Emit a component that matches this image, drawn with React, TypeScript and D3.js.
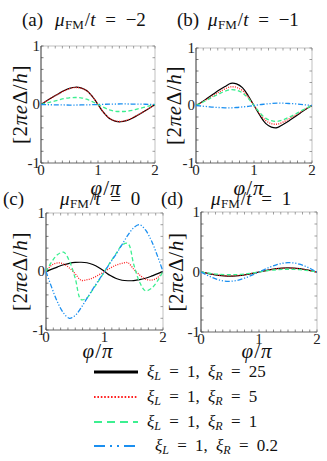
import React from "react";
import * as d3 from "d3";

const PHI = [0, 0.1, 0.2, 0.3, 0.4, 0.5, 0.6, 0.7, 0.8, 0.9, 1, 1.1, 1.2, 1.3, 1.4, 1.5, 1.6, 1.7, 1.8, 1.9, 2];

const A_BLACK = [0, 0.065, 0.125, 0.18, 0.235, 0.275, 0.295, 0.285, 0.24, 0.14, 0, -0.14, -0.24, -0.285, -0.295, -0.275, -0.235, -0.18, -0.125, -0.065, 0];
const A_RED = [0, 0.063, 0.122, 0.177, 0.23, 0.27, 0.29, 0.28, 0.235, 0.137, 0, -0.137, -0.235, -0.28, -0.29, -0.27, -0.23, -0.177, -0.122, -0.063, 0];
const A_GREEN = [0, 0.025, 0.05, 0.075, 0.1, 0.115, 0.12, 0.115, 0.09, 0.05, 0, -0.05, -0.09, -0.115, -0.12, -0.115, -0.1, -0.075, -0.05, -0.025, 0];
const A_BLUE = [0, -0.003, -0.005, -0.007, -0.008, -0.009, -0.009, -0.008, -0.006, -0.003, 0, 0.003, 0.006, 0.008, 0.009, 0.009, 0.008, 0.007, 0.005, 0.003, 0];

const B_BLACK = [0, 0.06, 0.13, 0.2, 0.27, 0.33, 0.385, 0.375, 0.31, 0.17, 0, -0.17, -0.31, -0.375, -0.385, -0.33, -0.27, -0.2, -0.13, -0.06, 0];
const B_RED = [0, 0.055, 0.115, 0.175, 0.235, 0.29, 0.325, 0.315, 0.26, 0.145, 0, -0.145, -0.26, -0.315, -0.325, -0.29, -0.235, -0.175, -0.115, -0.055, 0];
const B_GREEN = [0, 0.05, 0.1, 0.155, 0.205, 0.25, 0.275, 0.265, 0.22, 0.125, 0, -0.125, -0.22, -0.265, -0.275, -0.25, -0.205, -0.155, -0.1, -0.05, 0];
const B_BLUE = [0, -0.01, -0.02, -0.03, -0.035, -0.04, -0.04, -0.035, -0.025, -0.015, 0, 0.015, 0.025, 0.035, 0.04, 0.04, 0.035, 0.03, 0.02, 0.01, 0];

const C_BLACK = [0, 0.04, 0.08, 0.115, 0.14, 0.155, 0.158, 0.15, 0.12, 0.07, 0, -0.07, -0.12, -0.15, -0.158, -0.155, -0.14, -0.115, -0.08, -0.04, 0];
const C_RED = [0, 0.11, 0.147, 0.13, 0.06, -0.04, -0.15, -0.14, -0.11, -0.06, 0, 0.06, 0.11, 0.14, 0.15, 0.04, -0.06, -0.13, -0.147, -0.11, 0];
const C_GREEN = [0, 0.17, 0.29, 0.33, 0.18, -0.12, -0.48, -0.45, -0.31, -0.16, 0, 0.16, 0.31, 0.45, 0.48, 0.12, -0.18, -0.33, -0.29, -0.17, 0];
const C_BLUE = [0, -0.28, -0.53, -0.71, -0.8, -0.75, -0.62, -0.46, -0.3, -0.15, 0, 0.15, 0.3, 0.46, 0.62, 0.75, 0.8, 0.71, 0.53, 0.28, 0];

const D_BLACK = [0, -0.02, -0.04, -0.055, -0.065, -0.068, -0.065, -0.055, -0.04, -0.02, 0, 0.02, 0.04, 0.055, 0.065, 0.068, 0.065, 0.055, 0.04, 0.02, 0];
const D_RED = [0, -0.018, -0.037, -0.052, -0.062, -0.065, -0.062, -0.052, -0.037, -0.018, 0, 0.018, 0.037, 0.052, 0.062, 0.065, 0.062, 0.052, 0.037, 0.018, 0];
const D_GREEN = [0, -0.015, -0.028, -0.038, -0.044, -0.046, -0.044, -0.038, -0.028, -0.015, 0, 0.015, 0.028, 0.038, 0.044, 0.046, 0.044, 0.038, 0.028, 0.015, 0];
const D_BLUE = [0, -0.05, -0.095, -0.13, -0.15, -0.155, -0.145, -0.12, -0.085, -0.045, 0, 0.045, 0.085, 0.12, 0.145, 0.155, 0.15, 0.13, 0.095, 0.05, 0];

const X_TICKS = [0, 1, 2];
const Y_TICKS = [-1, 0, 1];
const PANEL_LETTERS = ["(a)", "(b)", "(c)", "(d)"];
const MU_VALUES = ["−2", "−1", "0", "1"];
const XI_R = ["25", "5", "1", "0.2"];

const FONT = "'Liberation Serif', 'DejaVu Serif', serif";

const STYLES = [
  { color: "#000000", dash: undefined as string | undefined, legendDash: undefined as string | undefined },
  { color: "#ff2020", dash: "1,1.3", legendDash: "1.6,1.8" },
  { color: "#3cef90", dash: "4,2.5", legendDash: "8,5" },
  { color: "#1a8ff0", dash: "5,1.8,1.2,1.8,1.2,1.8", legendDash: "11,5,2,5,2,5" },
];

const PANELS = [
  { series: [A_BLACK, A_RED, A_GREEN, A_BLUE], x0: 41, x1: 155, y0: 46, y1: 163, letterX: 22, muX: 55, titleY: 26, ylabX: 22, xlabX: 106, xlabY: 195 },
  { series: [B_BLACK, B_RED, B_GREEN, B_BLUE], x0: 196, x1: 312, y0: 48, y1: 163, letterX: 177, muX: 208, titleY: 26, ylabX: 176, xlabX: 249, xlabY: 195 },
  { series: [C_BLACK, C_RED, C_GREEN, C_BLUE], x0: 46, x1: 163, y0: 213, y1: 330, letterX: 3, muX: 60, titleY: 205, ylabX: 22, xlabX: 98, xlabY: 358 },
  { series: [D_BLACK, D_RED, D_GREEN, D_BLUE], x0: 201, x1: 317, y0: 212, y1: 332, letterX: 161, muX: 211, titleY: 205, ylabX: 178, xlabX: 257, xlabY: 358 },
];

function Panel({ p, idx }: { p: any; idx: number }) {
  const x = d3.scaleLinear().domain([0, 2]).range([p.x0, p.x1]);
  const y = d3.scaleLinear().domain([-1, 1]).range([p.y1, p.y0]);
  const line = d3
    .line<number>()
    .x((_, i) => x(PHI[i]))
    .y((d) => y(d))
    .curve(d3.curveCatmullRom.alpha(0.5));
  const xMinor = d3.range(0, 2.0001, 0.125);
  const yMinor = d3.range(-1, 1.0001, 0.2);
  const clipId = `clip${idx}`;
  const cy = (p.y0 + p.y1) / 2;
  return (
    <g>
      <defs>
        <clipPath id={clipId}>
          <rect x={p.x0} y={p.y0 - 2} width={p.x1 - p.x0} height={p.y1 - p.y0 + 4} />
        </clipPath>
      </defs>
      <line x1={p.x0} x2={p.x1} y1={p.y0} y2={p.y0} stroke="#999" strokeWidth={0.6} />
      <line x1={p.x1} x2={p.x1} y1={p.y0} y2={p.y1} stroke="#999" strokeWidth={0.6} />
      <line x1={p.x0} x2={p.x1} y1={p.y1} y2={p.y1} stroke="#555" strokeWidth={0.9} />
      <line x1={p.x0} x2={p.x0} y1={p.y0} y2={p.y1} stroke="#333" strokeWidth={1} />
      {xMinor.map((t, i) => (
        <g key={`xt${i}`}>
          <line x1={x(t)} x2={x(t)} y1={p.y1} y2={p.y1 - 2.5} stroke="#555" strokeWidth={0.7} />
          <line x1={x(t)} x2={x(t)} y1={p.y0} y2={p.y0 + 2.5} stroke="#777" strokeWidth={0.7} />
        </g>
      ))}
      {yMinor.map((t, i) => (
        <g key={`yt${i}`}>
          <line x1={p.x0} x2={p.x0 + 2.5} y1={y(t)} y2={y(t)} stroke="#444" strokeWidth={0.7} />
          <line x1={p.x1} x2={p.x1 - 2.5} y1={y(t)} y2={y(t)} stroke="#777" strokeWidth={0.7} />
        </g>
      ))}
      <g clipPath={`url(#${clipId})`}>
        {p.series.map((s: number[], i: number) => (
          <path
            key={i}
            d={line(s) || ""}
            fill="none"
            stroke={STYLES[i].color}
            strokeWidth={i === 0 ? 1.2 : 1.3}
            strokeDasharray={STYLES[i].dash}
          />
        ))}
      </g>
      {X_TICKS.map((t) => (
        <text key={`xl${t}`} x={x(t)} y={p.y1 + 12} fontSize={15} fontFamily={FONT} textAnchor="middle" fill="#222">
          {t}
        </text>
      ))}
      {Y_TICKS.map((t) => (
        <text key={`yl${t}`} x={p.x0 - 1} y={y(t) + 4.5} fontSize={15} fontFamily={FONT} textAnchor="end" fill="#222">
          {t === -1 ? "-1" : t}
        </text>
      ))}
      <text x={p.letterX} y={p.titleY} fontSize={19} fontFamily={FONT} fill="#111">
        {PANEL_LETTERS[idx]}
      </text>
      <text x={p.muX} y={p.titleY} fontSize={19} fontFamily={FONT} fill="#111" wordSpacing={5}>
        <tspan fontStyle="italic">μ</tspan>
        <tspan fontSize={13} dy={3} dx={0.5}>FM</tspan>
        <tspan dy={-3} dx={1}>/</tspan>
        <tspan fontStyle="italic">t</tspan>
        <tspan> = {MU_VALUES[idx]}</tspan>
      </text>
      <text
        transform={`translate(${p.ylabX},${cy}) rotate(-90)`}
        fontSize={21}
        fontFamily={FONT}
        textAnchor="middle"
        dominantBaseline="middle"
        fill="#111"
        letterSpacing={0.6}
      >
        [2<tspan fontStyle="italic">π</tspan>
        <tspan fontStyle="italic">e</tspan>Δ/<tspan fontStyle="italic">h</tspan>]
      </text>
      <text x={p.xlabX} y={p.xlabY} fontSize={21} fontFamily={FONT} textAnchor="middle" fill="#111" letterSpacing={1}>
        <tspan fontStyle="italic">φ</tspan>/<tspan fontStyle="italic">π</tspan>
      </text>
    </g>
  );
}

function Legend() {
  const rows = [372, 397, 422, 446];
  return (
    <g>
      {rows.map((ry, i) => (
        <g key={i}>
          <line
            x1={94}
            x2={138}
            y1={ry}
            y2={ry}
            stroke={STYLES[i].color}
            strokeWidth={i === 0 ? 3 : 2.2}
            strokeDasharray={STYLES[i].legendDash}
          />
          <text x={i === 3 ? 155 : 147} y={ry + 5} fontSize={17} fontFamily={FONT} fill="#111" wordSpacing={4}>
            <tspan fontStyle="italic">ξ</tspan>
            <tspan fontSize={12} dy={3} fontStyle="italic">L</tspan>
            <tspan dy={-3}> = 1, </tspan>
            <tspan fontStyle="italic">ξ</tspan>
            <tspan fontSize={12} dy={3} fontStyle="italic">R</tspan>
            <tspan dy={-3}> = {XI_R[i]}</tspan>
          </text>
        </g>
      ))}
    </g>
  );
}

export default function App() {
  return (
    <svg width={327} height={461} style={{ position: "absolute", left: 0, top: 0, background: "#fff" }}>
      <rect x={0} y={0} width={327} height={461} fill="#fff" />
      {PANELS.map((p, i) => (
        <Panel key={i} p={p} idx={i} />
      ))}
      <Legend />
    </svg>
  );
}
